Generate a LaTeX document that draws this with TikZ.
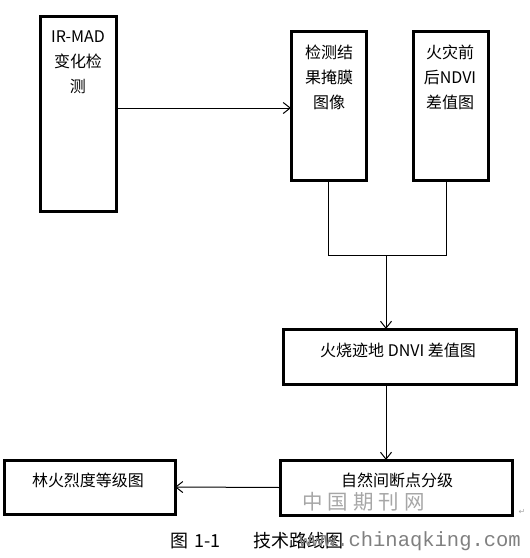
\documentclass[tikz,border=0pt]{standalone}
\usepackage{fontspec}
\newfontfamily\cjk{Noto Sans CJK SC}
\newfontfamily\symfont{DejaVu Sans}
\newfontfamily\wmmono{Liberation Mono}
\usetikzlibrary{arrows.meta,calc}
\begin{document}
\begin{tikzpicture}[x=1pt,y=-1pt,
  box/.style={draw, line width=3pt, rectangle, inner sep=0pt, outer sep=0pt},
  txt/.style={font=\cjk\fontsize{16}{25}\selectfont, align=center, inner sep=0pt},
  captxt/.style={font=\cjk\fontsize{18}{20}\selectfont, inner sep=0pt},
  wmark/.style={text=black!35, inner sep=0pt},
  conn/.style={line width=1pt},
  arr/.style={line width=1pt, -{Straight Barb[length=7pt,width=11pt,line width=1pt]}}]
\useasboundingbox (0,0) rectangle (530,558);
% boxes
\node[box, minimum width=76pt, minimum height=195pt] (irmad) at (78,113.5) {};
\node[box, minimum width=75pt, minimum height=149pt] (mask) at (328.5,105.5) {};
\node[box, minimum width=75pt, minimum height=149pt] (ndvi) at (450.5,105.5) {};
\node[box, minimum width=233pt, minimum height=55pt] (dnvi) at (399.5,356.5) {};
\node[box, minimum width=232pt, minimum height=55pt] (jenks) at (396,487.5) {};
\node[box, minimum width=171pt, minimum height=54pt] (grade) at (89.5,487) {};
% texts
\node[txt, anchor=north] (irmadt) at (78,31) {IR-MAD\\变化检\\测};
\node[txt, anchor=north] (maskt) at (329,45) {检测结\\果掩膜\\图像};
\node[txt, anchor=north] (ndvit) at (450,45) {火灾前\\后NDVI\\差值图};
\node[txt] (dnvit) at (398,350) {火烧迹地 DNVI 差值图};
\node[txt] (jenkst) at (397,480) {自然间断点分级};
\node[txt] (gradet) at (88,480) {林火烈度等级图};
% connectors
\coordinate (y1) at (0,108);
\coordinate (j) at (386,255);
\draw[arr] (irmad.east |- y1) -- (mask.west |- y1);
\draw[conn] (mask.south) |- (j);
\draw[conn] ($(ndvi.south)+(-4,0)$) |- (j);
\draw[arr] (j) -- (j |- dnvi.north);
\draw[arr] (j |- dnvi.south) -- (j |- jenks.north);
\draw[arr] (jenks.west) -- (grade.east);
% watermark and caption
\node[wmark, font=\cjk\fontsize{20.5}{22}\selectfont, anchor=west] (wm1) at (302,502) {中\hspace{5pt}国\hspace{5pt}期\hspace{5pt}刊\hspace{5pt}网};
\node[wmark, font=\symfont\fontsize{8}{9}\selectfont] (para) at (522,512) {↵};
\node[captxt, anchor=west] (cap) at (170,541) {图\hspace{6pt}1-1\hspace{33pt}技术路线图};
\node[wmark, text=black!50, font=\wmmono\fontsize{20.5}{22}\selectfont, anchor=east] (wm2) at (521,541) {www.chinaqking.com};
\end{tikzpicture}
\end{document}
